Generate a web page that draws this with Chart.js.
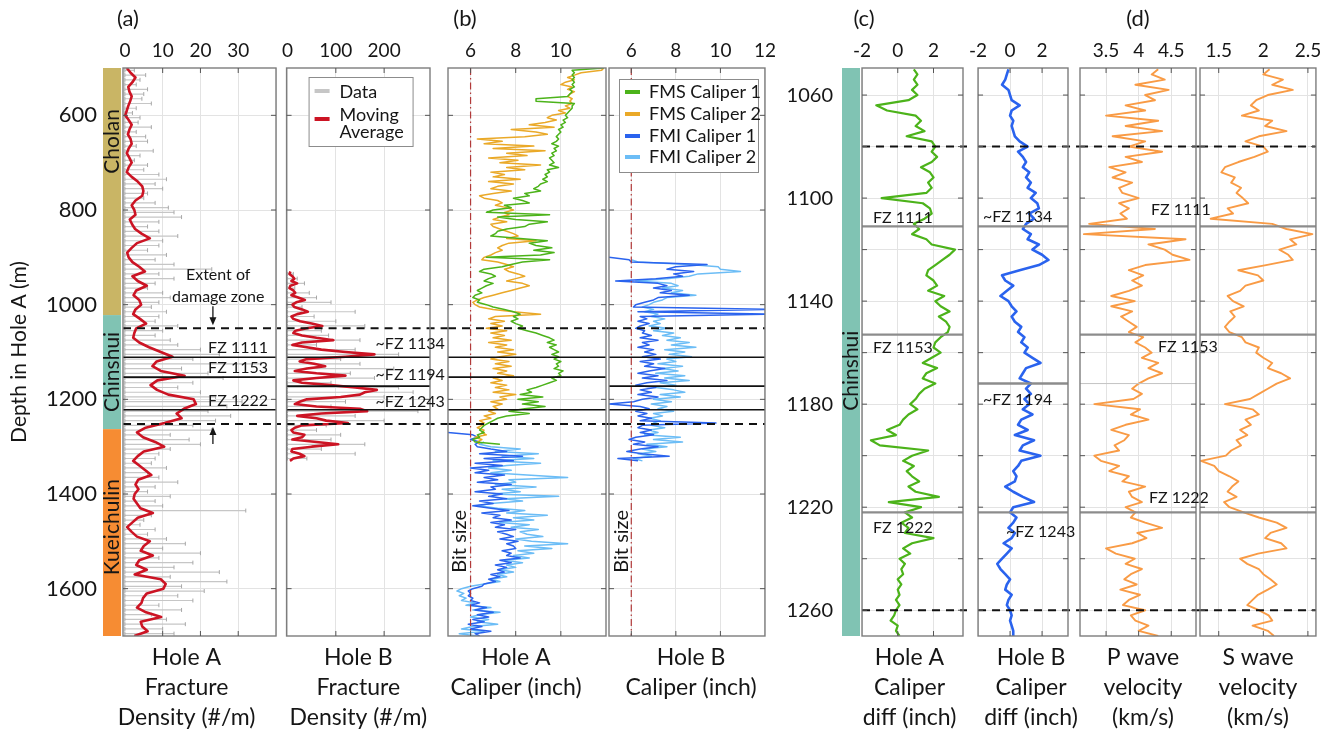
<!DOCTYPE html>
<html>
<head>
<meta charset="utf-8">
<title>Fracture density, caliper and velocity logs</title>
<script src="https://cdn.jsdelivr.net/npm/chart.js@4.4.1/dist/chart.umd.min.js"></script>
<style>
  html, body { margin: 0; padding: 0; background: #fff; }
  #wrap { position: relative; width: 1332px; height: 733px; overflow: hidden; }
  #wrap canvas { position: absolute; top: 0; }
</style>
</head>
<body>
<div id="wrap"></div>
<script>
// ---------- depth axes (m, Hole A depth) ----------
const depthRangeAB = [500, 1700];
const depthRangeCD = [1049.5, 1270];
const depthTicksAB = [600, 800, 1000, 1200, 1400, 1600];
const depthTicksCD = [1060, 1080, 1100, 1120, 1140, 1160, 1180, 1200, 1220, 1240, 1260];
const depthLabelsCD = [1060, 1100, 1140, 1180, 1220, 1260];

// ---------- value axes ----------
const ticksDensA = [0, 10, 20, 30, 40];
const ticksDensB = [0, 100, 200];
const ticksCalA = [6, 8, 10];
const ticksCalB = [6, 8, 10, 12];
const ticksDiff = [-2, 0, 2];
const ticksVp = [3.5, 4, 4.5];
const ticksVs = [1.5, 2, 2.5];

// ---------- formations ----------
const formations = ['Cholan', 'Chinshui', 'Kueichulin'];
const formationTop = [500, 1022, 1263];
const formationBase = [1022, 1263, 1700];
const formationColors = ['#c9b565', '#80c3b3', '#f68c33'];

// ---------- fault zones and damage zone ----------
const fzHoleA = [1111, 1153, 1222];
const fzHoleB = [1111, 1172, 1222];
const fzNamesA = ['FZ 1111', 'FZ 1153', 'FZ 1222'];
const fzNamesB = ['~FZ 1134', '~FZ 1194', '~FZ 1243'];
const damageZoneAB = [1050, 1252];
const damageZoneCD = [1080, 1260];
const bitSize = 6;

// ---------- fracture density, Hole A ----------
// moving average, 500-1700 m every 10 m
const densMaA = [
  0.5, 1.5, 2.8, 2.0, 0.9, 1.2, 1.8, 1.4, 0.9, 0.5,
  0.1, 1.0, 1.8, 1.2, 0.8, 1.5, 1.8, 1.0, 0.5, 1.2,
  1.8, 1.0, 0.5, 1.8, 3.4, 4.6, 4.9, 4.6, 2.8, 1.8,
  2.5, 2.8, 1.3, 1.9, 2.7, 4.4, 6.6, 3.2, 1.8, 0.6,
  1.0, 2.0, 3.8, 5.3, 2.0, 3.4, 5.8, 3.0, 2.3, 3.8,
  4.3, 2.8, 2.2, 4.0, 5.6, 3.0, 2.5, 2.2, 3.8, 6.4,
  9.5, 12.6, 8.4, 7.3, 9.5, 15.8, 8.6, 6.8, 8.5, 11.5,
  18.2, 18.8, 15.6, 13.7, 15.0, 10.5, 5.5, 3.2, 4.8, 8.0,
  10.4, 5.0, 3.4, 2.2, 3.8, 5.4, 7.0, 3.5, 2.8, 3.6,
  2.6, 2.3, 3.2, 4.1, 7.4, 3.4, 2.0, 0.6, 1.8, 3.2,
  6.6, 5.0, 4.2, 7.4, 3.8, 3.0, 5.8, 2.6, 9.5, 10.8,
  10.2, 5.8, 4.8, 4.4, 3.2, 5.6, 9.6, 4.2, 4.6, 6.0,
  2.5
];
// interval counts, 505-1695 m every 10 m
const densDataA = [
  2.5, 5.5, 4, 3, 6, 5, 4.5, 7, 3, 2,
  4, 3.5, 7, 3, 5.5, 6, 3, 7.5, 4, 2.5,
  6, 5, 9, 11, 8, 10, 6, 5, 8, 11.5,
  13, 15, 9, 6, 9, 14, 10, 9, 6, 11,
  8, 13, 23, 9, 13, 8, 6, 10, 12, 9,
  7, 11, 9, 8, 14, 10, 8, 12, 14, 20,
  25, 18, 36, 15, 22, 26, 18, 14, 20, 24,
  31, 27, 22, 28, 24, 18, 23, 12, 17, 20,
  12, 9, 8, 7, 11, 6, 9, 14, 8, 6,
  12, 8, 10, 32, 7, 5, 4, 8, 6, 11,
  16, 10, 20, 9, 18, 13, 25, 12, 27, 15,
  21, 14, 18, 9, 15, 7, 11, 16, 10, 13
];

// ---------- fracture density, Hole B ----------
// moving average, 930-1330 m every 5 m
const densMaB = [
  6, 4, 10, 14, 8, 20, 6, 4, 12, 16,
  8, 22, 36, 18, 10, 14, 30, 42, 20, 8,
  12, 26, 50, 72, 40, 16, 12, 30, 60, 95,
  30, 10, 40, 70, 120, 180, 120, 40, 25, 55,
  78, 40, 15, 60, 120, 60, 12, 30, 90, 140,
  185, 160, 150, 110, 40, 25, 15, 60, 150, 165,
  70, 20, 60, 80, 125, 30, 15, 8, 12, 35,
  30, 10, 60, 105, 50, 10, 8, 25, 35, 12,
  5
];
// interval counts, 935-1325 m every 10 m
const densDataB = [
  12, 20, 35, 15, 45, 60, 90, 30, 140, 55,
  100, 160, 70, 85, 150, 60, 140, 230, 110, 150,
  220, 130, 180, 90, 230, 260, 200, 120, 90, 270,
  140, 200, 80, 60, 110, 90, 160, 70, 140, 40
];

// ---------- calipers, Hole A (inch) ----------
// FMS, 500-1295 m every 5 m
const fms1A = [
  11.9, 10.5, 10.6, 10.5, 10.6, 10.5, 10.6, 10.5, 10.6, 10.4,
  10.5, 10.4, 10.3, 8.9, 8.9, 10.6, 10.5, 10.5, 10.4, 10.3,
  10.2, 10.3, 10.1, 10.2, 10.0, 10.1, 9.9, 10.0, 9.9, 9.8,
  9.9, 9.8, 9.6, 9.9, 9.7, 9.8, 9.6, 9.7, 9.5, 9.6,
  9.7, 9.5, 9.9, 9.4, 9.5, 9.3, 9.4, 9.2, 9.4, 9.1,
  9.0, 8.8, 9.1, 8.4, 8.6, 7.9, 8.3, 8.6, 7.5, 7.8,
  7.0, 6.7, 9.5, 7.2, 8.0, 9.4, 8.6, 8.4, 7.6, 7.2,
  7.1, 6.9, 8.2, 9.4, 8.6, 8.9, 9.6, 8.8, 9.7, 9.1,
  6.7, 9.5, 8.3, 7.8, 7.4, 6.6, 6.4, 6.9, 7.1, 6.8,
  6.6, 7.0, 6.7, 6.5, 6.3, 6.5, 6.2, 6.1, 6.4, 6.3,
  6.7, 7.0, 7.5, 7.9, 8.2, 7.9, 8.1, 7.8, 8.0, 8.3,
  8.1, 8.5, 8.9, 9.2, 9.5, 9.7, 9.4, 9.8, 9.5, 9.7,
  9.9, 9.6, 9.9, 9.7, 10.0, 9.8, 9.9, 9.7, 10.1, 9.9,
  10.0, 9.6, 9.8, 9.5, 9.2, 8.9, 8.5, 8.7, 8.2, 9.2,
  8.1, 9.0, 8.3, 9.3, 8.4, 7.7, 8.6, 7.6, 7.2, 7.0,
  6.8, 6.6, 6.5, 6.4, 6.6, 6.3, 6.4, 6.1, 6.2, 7.3
];
const fms2A = [
  11.9, 11.8, 10.9, 10.6, 10.3, 10.6, 10.2, 10.0, 10.5, 10.3,
  10.6, 10.4, 10.3, 10.5, 10.4, 10.5, 10.2, 10.4, 9.9, 10.2,
  9.6, 9.4, 9.8, 9.3, 8.6, 9.7, 7.8, 8.9, 9.4, 8.4,
  6.3, 7.4, 6.6, 8.8, 7.0, 9.3, 7.6, 8.5, 6.8, 8.1,
  7.3, 9.1, 7.6, 8.4, 6.9, 7.5, 7.0, 8.2, 6.8, 7.9,
  7.2, 6.9, 7.8, 7.0, 6.4, 6.6, 7.2, 7.4, 7.1, 7.6,
  7.9, 7.5, 7.7, 7.3, 7.0, 7.6, 6.9, 7.0, 7.3, 7.6,
  7.9, 8.1, 7.6, 8.9, 7.7, 7.4, 7.2, 7.4, 7.1, 6.9,
  6.6, 6.5, 7.2, 7.6, 7.9, 7.5, 7.7, 8.1, 8.4, 8.0,
  7.6, 8.3, 8.6, 8.2, 7.8, 7.4, 7.0, 6.6, 6.3, 6.1,
  6.2, 6.4, 7.0, 7.9, 9.1, 7.1, 6.8, 7.5, 6.9, 7.4,
  6.7, 7.6, 6.9, 7.5, 7.0, 7.8, 6.8, 7.6, 7.1, 7.9,
  7.2, 8.0, 7.3, 6.9, 7.7, 7.1, 7.8, 7.0, 7.6, 7.2,
  7.9, 7.0, 7.4, 6.9, 7.6, 7.1, 7.7, 7.0, 8.0, 7.3,
  7.6, 6.9, 7.4, 7.0, 7.2, 6.8, 7.1, 6.6, 6.9, 6.4,
  6.6, 6.5, 6.3, 6.6, 6.5, 6.7, 6.2, 6.5, 6.3, 6.4
];
// FMI caliper 1, 1270-1700 m every 5 m
const fmi1A = [
  5.0, 6.1, 6.3, 6.0, 6.4, 6.2, 6.3, 6.9, 7.6, 6.4,
  8.3, 6.6, 7.9, 6.2, 7.4, 6.0, 6.8, 6.2, 7.5, 6.6,
  7.2, 6.3, 7.8, 6.9, 7.1, 6.2, 7.4, 6.8, 7.6, 6.4,
  7.0, 6.1, 6.9, 7.7, 6.5, 7.3, 7.0, 7.8, 6.9, 7.5,
  7.1, 8.0, 7.2, 7.6, 7.9, 7.3, 8.1, 7.6, 7.9, 8.0,
  7.4, 7.8, 7.6, 8.2, 7.3, 7.8, 7.1, 7.6, 7.2, 7.5,
  6.9, 7.3, 6.8, 7.1, 6.6, 6.5, 6.1, 5.9, 6.0, 5.9,
  6.1, 6.0, 6.4, 6.0, 6.7, 6.2, 7.0, 6.3, 6.8, 6.1,
  6.6, 5.9, 6.5, 6.0, 6.9, 6.2, 6.4
];
// FMI caliper 2, 1290-1700 m every 5 m
const fmi2A = [
  6.6, 6.4, 6.9, 8.2, 7.1, 9.0, 7.4, 8.8, 7.0, 9.1,
  7.6, 6.8, 7.8, 6.9, 8.5, 10.3, 7.7, 8.0, 7.1, 8.9,
  7.4, 8.2, 7.0, 9.9, 7.5, 8.3, 6.9, 6.3, 7.2, 8.4,
  7.6, 9.4, 7.9, 8.8, 7.3, 8.6, 7.8, 9.0, 8.2, 8.5,
  9.2, 8.0, 8.7, 10.3, 8.4, 9.6, 8.1, 8.8, 7.9, 8.6,
  7.5, 8.3, 7.6, 8.0, 7.3, 7.9, 7.2, 7.6, 6.9, 7.3,
  6.6, 6.0, 5.6, 5.4, 5.7, 5.5, 5.8, 5.6, 6.2, 5.8,
  6.9, 6.1, 7.3, 6.4, 6.0, 6.8, 6.3, 7.2, 6.1, 5.6,
  6.6, 5.5, 6.3
];

// ---------- calipers, Hole B (inch) ----------
// FMI caliper 1, 900-1330 m every 5 m
const fmi1B = [
  5.0, 5.9, 6.0, 9.4, 8.0, 7.6, 8.8, 7.9, 8.3, 7.1,
  5.3, 7.2, 7.6, 7.0, 7.8, 7.3, 8.6, 7.2, 7.0, 6.6,
  6.2, 6.1, 12.5, 6.3, 12.5, 6.4, 6.7, 6.3, 6.8, 6.4,
  6.2, 6.6, 6.5, 6.9, 6.4, 7.2, 6.5, 6.8, 6.3, 7.0,
  6.6, 7.1, 6.5, 7.3, 6.4, 7.0, 6.6, 7.5, 6.8, 6.3,
  7.2, 6.5, 7.6, 6.7, 6.2, 7.1, 6.4, 6.9, 6.3, 7.2,
  6.5, 6.1, 5.0, 6.4, 6.8, 6.2, 6.7, 6.3, 6.9, 6.4,
  9.8, 6.5, 6.3, 6.9, 6.4, 7.0, 6.2, 5.9, 6.6, 6.1,
  7.2, 6.4, 5.8, 6.5, 7.7, 5.4, 6.3
];
// FMI caliper 2, 905-1330 m every 5 m
const fmi2B = [
  6.0, 6.3, 8.6, 9.9, 10.0, 10.9, 9.0, 8.6, 7.6, 6.2,
  7.8, 8.1, 7.4, 8.3, 7.8, 8.9, 7.6, 7.4, 7.0, 6.8,
  6.5, 7.0, 6.6, 7.2, 6.9, 7.5, 7.0, 7.3, 6.8, 7.6,
  7.0, 7.9, 7.4, 8.2, 7.6, 8.6, 7.8, 8.9, 7.5, 8.4,
  7.7, 8.7, 7.6, 8.0, 7.2, 8.3, 7.4, 8.1, 7.1, 8.4,
  7.5, 8.6, 7.3, 8.0, 7.1, 7.9, 8.4, 7.3, 8.2, 7.0,
  7.8, 6.9, 7.6, 7.2, 7.9, 7.0, 7.4, 6.8, 7.3, 7.0,
  6.9, 7.5, 6.8, 7.2, 6.6, 8.2, 7.0, 8.3, 6.7, 7.6,
  6.5, 7.1, 6.3, 6.9, 6.1, 6.5
];

// ---------- fault-zone section, 1050-1270 m every 2 m ----------
const caliperDiffA = [
  0.9, 1.1, 0.9, 1.1, 0.8, 1.1, 0.6, -1.2, -0.6, 1.0,
  1.3, 1.0, 1.5, 0.5, 1.9, 2.1, 1.9, 2.2, 1.9, 1.3,
  1.8, 2.0, 1.7, 1.9, 1.6, -0.9, 1.4, 1.8, 1.9, 1.5,
  0.9, 1.2, 0.8, 1.6, 1.9, 3.2, 2.9, 2.5, 2.1, 1.7,
  1.6, 2.0, 2.2, 1.7, 2.6, 2.1, 2.4, 2.9, 2.3, 2.7,
  2.9, 2.8, 2.4, 2.1, 2.0, 2.4, 1.9, 1.4, 2.2, 1.6,
  1.4, 2.1, 1.5, 1.2, 1.0, 0.7, 1.1, 0.6, 0.3, 0.1,
  -0.6, -0.1, -1.5, -1.0, 1.7, 0.8, 0.3, 0.9, 0.5, 0.8,
  1.2, 0.6, 1.0, 2.3, -0.5, 1.3, 0.4, 0.8, 0.2, 0.6,
  0.4, 2.0, 0.8, 0.3, 0.7, 0.1, 0.4, 0.2, 0.3, 0.0,
  0.2, 0.0, 0.1, -0.1, 0.1, -0.1, -0.2, -0.4, 0.0, -0.1,
  0.1
];
const caliperDiffB = [
  -0.1, -0.2, -0.3, -0.5, -0.1, 0.0, 0.1, 0.6, 0.1, 0.0,
  0.2, 0.1, 0.2, 0.3, 0.6, 1.1, 0.5, 0.8, 1.0, 0.8,
  1.2, 1.0, 1.3, 1.1, 1.6, 1.3, 1.7, 1.8, 1.2, 1.5,
  1.0, 0.8, 1.3, 1.1, 1.8, 1.4, 2.0, 2.4, 1.8, 0.6,
  -0.5, -0.3, 0.2, -0.2, -0.6, -0.1, 0.1, 0.4, 0.1, 0.3,
  0.7, 0.5, 0.9, 0.7, 1.1, 0.9, 1.4, 1.9, 1.0, 0.8,
  0.6, 1.3, 1.0, 1.3, 0.9, 1.2, 0.8, 1.4, 0.7, 0.5,
  1.1, 0.3, 1.5, 0.8, 0.6, 1.9, 0.7, 0.5, 0.2, 0.4,
  0.3, -0.3, 0.2, 0.8, 1.5, 0.2, 0.0, 0.4, 0.2, -0.1,
  0.3, 0.1, -0.4, 0.1, -0.2, -0.5, -0.8, -0.6, -0.3, 0.0,
  -0.2, -0.3, 0.1, -0.1, -0.2, 0.0, 0.1, 0.0, 0.1, 0.2,
  0.2
];
const vpWave = [
  4.30, 4.20, 4.40, 3.95, 4.46, 4.10, 4.25, 3.80, 4.10, 3.50,
  4.30, 3.80, 4.36, 3.60, 4.10, 3.85, 4.36, 3.80, 4.05, 3.55,
  3.80, 3.60, 3.90, 3.70, 3.75, 4.00, 3.70, 3.85, 3.72, 3.82,
  3.24, 4.25, 3.16, 4.72, 4.15, 4.40, 4.52, 4.78, 4.10, 3.85,
  4.07, 3.90, 4.05, 3.85, 3.58, 3.94, 3.58, 3.90, 3.73, 3.85,
  3.97, 3.85, 4.07, 3.95, 4.10, 4.20, 4.05, 4.30, 4.15, 4.36,
  4.15, 4.00, 3.90, 4.05, 3.92, 3.32, 4.02, 3.88, 4.15, 3.80,
  3.58, 3.85, 3.78, 3.63, 3.70, 3.32, 3.42, 3.70, 3.55, 3.85,
  3.75, 4.10, 3.85, 3.90, 4.05, 3.80, 3.95, 3.88, 4.10, 4.36,
  3.98, 4.12, 3.90, 3.50, 3.65, 3.94, 3.80, 4.05, 3.88, 3.78,
  3.97, 3.72, 4.02, 3.85, 3.76, 4.10, 3.88, 3.95, 4.15, 4.00,
  4.30
];
const vsWave = [
  2.07, 2.00, 2.22, 2.10, 2.33, 2.05, 1.92, 1.86, 1.95, 1.76,
  2.10, 2.02, 2.26, 1.95, 1.80, 2.00, 2.05, 1.90, 1.72, 1.57,
  1.53, 1.68, 1.64, 1.75, 1.70, 1.77, 1.83, 1.60, 1.66, 1.41,
  2.10, 2.26, 2.55, 2.30, 2.37, 2.18, 2.28, 2.33, 2.03, 1.72,
  1.94, 2.00, 1.80, 1.74, 1.60, 1.66, 1.78, 1.63, 1.68, 1.62,
  1.57, 1.62, 1.76, 1.80, 1.95, 1.92, 2.00, 2.10, 2.05, 2.20,
  2.30, 2.15, 2.05, 1.95, 1.85, 1.57, 1.88, 1.95, 1.80, 1.86,
  1.74, 1.82, 1.70, 1.75, 1.64, 1.58, 1.30, 1.45, 1.50, 1.62,
  1.72, 1.65, 1.60, 1.70, 1.56, 1.62, 1.78, 1.95, 2.15, 2.26,
  2.08, 2.02, 2.20, 2.26, 1.94, 1.74, 1.82, 1.95, 2.00, 2.08,
  2.15, 2.05, 1.94, 1.88, 1.82, 1.95, 2.06, 2.10, 1.88, 2.05,
  2.12
];

// ---------- styling ----------
Chart.defaults.font.family = 'Lato, "Open Sans", sans-serif';
const INK = '#161616', GRID = '#e3e3e3', FRAME = '#7d7d7d';
const PLOT_TOP = 68, PLOT_BOTTOM = 636, H = 733;
const RED = '#cc1424', GREY = '#c6c6c6', GREEN = '#4cb31a', AMBER = '#eaa928';
const BLUE = '#2a63ee', SKY = '#6cbdf6', ORANGE = '#f99b45', BIT = '#b23a3a';

function track(values, start, step) {
  return values.map((v, i) => ({ x: v, y: start + i * step }));
}
// each count drawn as a segment from zero, with a gap between intervals
function intervals(values, start, step) {
  const pts = [];
  values.forEach((v, i) => {
    const d = start + i * step;
    pts.push({ x: 0, y: d }, { x: v, y: d }, { x: null, y: null });
  });
  return pts;
}
function log(label, data, color, width) {
  return { label, data, showLine: true, borderColor: color, borderWidth: width,
           pointRadius: 0, borderJoinStyle: 'round' };
}
function countSet(data) {
  return { label: 'Data', data, showLine: true, borderColor: GREY, borderWidth: 1.2,
           pointRadius: 2, pointStyle: 'line', rotation: 90,
           pointBorderColor: '#a8a8a8', pointBorderWidth: 1 };
}
function bitSet(range) {
  return { label: 'Bit size', data: [{ x: bitSize, y: range[0] }, { x: bitSize, y: range[1] }],
           showLine: true, borderColor: BIT, borderWidth: 1.2, borderDash: [7, 3, 1.5, 3], pointRadius: 0 };
}

function seg(ctx, x0, y0, x1, y1) {
  ctx.beginPath(); ctx.moveTo(x0, y0); ctx.lineTo(x1, y1); ctx.stroke();
}
function arrow(ctx, x, yTail, yTip) {
  const dir = Math.sign(yTip - yTail);
  ctx.strokeStyle = INK; ctx.fillStyle = INK; ctx.lineWidth = 1.3;
  seg(ctx, x, yTail, x, yTip - dir * 6);
  ctx.beginPath();
  ctx.moveTo(x, yTip); ctx.lineTo(x - 3.5, yTip - dir * 8); ctx.lineTo(x + 3.5, yTip - dir * 8);
  ctx.closePath(); ctx.fill();
}
function vtext(ctx, text, x, y, size) {
  ctx.save();
  ctx.translate(x, y); ctx.rotate(-Math.PI / 2);
  ctx.font = size + 'px Lato'; ctx.fillStyle = INK;
  ctx.textAlign = 'center'; ctx.textBaseline = 'middle';
  ctx.fillText(text, 0, 0);
  ctx.restore();
}

// frame, fault lines, labels and the other annotations of one panel
function decorate(p) {
  return {
    id: 'deco',
    afterDatasetsDraw(chart) {
      const { ctx, chartArea: a, scales: { x, y } } = chart;
      ctx.save();
      (p.faint || []).forEach(d => {
        ctx.strokeStyle = '#c4c4c4'; ctx.lineWidth = 1;
        const py = y.getPixelForValue(d); seg(ctx, a.left, py, a.right, py);
      });
      (p.faults || []).forEach(d => {
        ctx.strokeStyle = p.faultColor; ctx.lineWidth = p.faultWidth;
        const py = y.getPixelForValue(d); seg(ctx, a.left, py, a.right, py);
      });
      ctx.setLineDash([8, 6]);
      ctx.strokeStyle = '#111'; ctx.lineWidth = 2;
      (p.damage || []).forEach(d => {
        const py = y.getPixelForValue(d); seg(ctx, a.left, py, a.right + p.gapRight, py);
      });
      ctx.setLineDash([]);
      ctx.strokeStyle = FRAME; ctx.lineWidth = 1.4;
      ctx.strokeRect(a.left, a.top, a.right - a.left, a.bottom - a.top);
      ctx.strokeStyle = '#555'; ctx.lineWidth = 1;
      x.ticks.forEach(t => {
        const px = x.getPixelForValue(t.value);
        if (px < a.left + 2 || px > a.right - 2) return;
        seg(ctx, px, a.top, px, a.top + 5); seg(ctx, px, a.bottom, px, a.bottom - 5);
      });
      y.ticks.forEach(t => {
        const py = y.getPixelForValue(t.value);
        if (py < a.top + 2 || py > a.bottom - 2) return;
        seg(ctx, a.left, py, a.left + 5, py); seg(ctx, a.right, py, a.right - 5, py);
      });
      ctx.restore();
    },
    afterDraw(chart) {
      const { ctx, chartArea: a, scales: { x, y } } = chart;
      ctx.save();
      ctx.fillStyle = INK; ctx.textBaseline = 'middle';

      if (p.formations) {
        const f = p.formations;
        f.names.forEach((name, i) => {
          const t = Math.max(a.top, y.getPixelForValue(f.top[i]));
          const b = Math.min(a.bottom, y.getPixelForValue(f.base[i]));
          ctx.fillStyle = f.colors[i];
          ctx.fillRect(a.left - 20, t, 18, b - t);
          vtext(ctx, name, a.left - 11, y.getPixelForValue(f.labelDepth[i]), 21);
        });
        ctx.fillStyle = INK;
      }

      if (p.labels) {
        ctx.font = '16px Lato';
        p.labels.forEach((txt, i) => {
          const at = p.labelAt[i];
          ctx.textAlign = at.align || 'left';
          const px = (at.align === 'right' ? a.right : a.left) + at.dx;
          ctx.fillText(txt, px, y.getPixelForValue(p.faults[i]) + at.dy);
        });
      }

      if (p.bitLabel) {
        vtext(ctx, 'Bit size', x.getPixelForValue(p.bitLabel[0]), y.getPixelForValue(p.bitLabel[1]), 20);
      }

      if (p.note) {
        const top = y.getPixelForValue(p.damage[0]), bot = y.getPixelForValue(p.damage[1]);
        const ax = x.getPixelForValue(p.note.arrowX), tx = x.getPixelForValue(p.note.textX);
        arrow(ctx, ax, top - 22, top - 3);
        arrow(ctx, ax, bot + 20, bot + 3);
        ctx.font = '16px Lato'; ctx.textAlign = 'center'; ctx.fillStyle = INK;
        ctx.fillText('Extent of', tx, top - 53);
        ctx.fillText('damage zone', tx, top - 31);
      }

      if (p.legend) {
        const L = p.legend, bx = a.left + L.dx, by = a.top + L.dy;
        ctx.fillStyle = '#fff'; ctx.fillRect(bx, by, L.w, L.h);
        ctx.strokeStyle = '#8c8c8c'; ctx.lineWidth = 1;
        ctx.strokeRect(bx + 0.5, by + 0.5, L.w, L.h);
        ctx.font = '18px Lato'; ctx.textAlign = 'left';
        L.items.forEach(it => {
          ctx.strokeStyle = it.color; ctx.lineWidth = 4;
          seg(ctx, bx + 6, by + it.sy, bx + 21, by + it.sy);
          ctx.fillStyle = INK;
          it.text.forEach((t, k) => ctx.fillText(t, bx + L.tx, by + it.ty + k * 17));
        });
      }

      ctx.font = '23px Lato'; ctx.textAlign = 'center'; ctx.fillStyle = INK;
      const cx = (a.left + a.right) / 2 + p.titleDx;
      p.title.forEach((t, i) => ctx.fillText(t, cx, a.bottom + 22 + i * 30));

      if (p.letter) {
        ctx.font = '22px Lato';
        ctx.fillText(p.letter, a.left + p.letterDx, 19);
      }
      ctx.restore();
    }
  };
}

const wrap = document.getElementById('wrap');
function makePanel(p) {
  const canvas = document.createElement('canvas');
  canvas.width = p.padLeft + p.width + p.padRight;
  canvas.height = H;
  canvas.style.left = (p.left - p.padLeft) + 'px';
  wrap.appendChild(canvas);
  const yLabels = p.depthLabels;
  return new Chart(canvas, {
    type: 'scatter',
    data: { datasets: p.datasets },
    options: {
      responsive: false, animation: false, events: [],
      layout: { autoPadding: false, padding: { top: 0, left: 0, right: p.padRight, bottom: H - PLOT_BOTTOM } },
      plugins: { legend: { display: false }, tooltip: { enabled: false } },
      scales: {
        x: {
          type: 'linear', position: 'top', min: p.xRange[0], max: p.xRange[1],
          afterFit: s => { s.height = PLOT_TOP; },
          afterBuildTicks: s => { s.ticks = p.xTicks.map(v => ({ value: v })); },
          grid: { color: GRID, drawTicks: false },
          border: { display: false },
          ticks: { padding: 6, font: { size: 19 }, color: INK, autoSkip: false, maxRotation: 0,
                   callback: v => (p.xHide && p.xHide.includes(v)) ? '' : String(v) }
        },
        y: {
          type: 'linear', position: 'left', reverse: true, min: p.yRange[0], max: p.yRange[1],
          afterFit: s => { s.width = p.padLeft; },
          afterBuildTicks: s => { s.ticks = p.depthTicks.map(v => ({ value: v })); },
          grid: { color: GRID, drawTicks: false },
          border: { display: false },
          ticks: { display: !!yLabels, padding: p.yPad || 0, font: { size: p.yFont || 20 }, color: INK,
                   autoSkip: false, callback: v => (yLabels && yLabels.includes(v)) ? String(v) : '' },
          title: p.yTitle
            ? { display: true, text: p.yTitle, font: { size: 21 }, color: INK, padding: { top: 7, bottom: 0 } }
            : { display: false }
        }
      }
    },
    plugins: [decorate(p)]
  });
}

const AB = depthRangeAB, CD = depthRangeCD;
const faultsAB = { faultColor: '#111', faultWidth: 1.6 };
const faultsCD = { faultColor: '#8c8c8c', faultWidth: 2.4 };

const panels = [
  Object.assign({
    left: 123, width: 153, padLeft: 123, padRight: 12,
    xRange: [-0.5, 40], xTicks: ticksDensA, xHide: [40],
    yRange: AB, depthTicks: depthTicksAB, depthLabels: depthTicksAB, yFont: 22, yPad: 26,
    yTitle: 'Depth in Hole A (m)',
    datasets: [log('Moving Average', track(densMaA, 500, 10), RED, 2.6), countSet(intervals(densDataA, 505, 10))],
    faults: fzHoleA, damage: damageZoneAB, gapRight: 5,
    labels: fzNamesA,
    labelAt: [{ dx: -8, dy: -9, align: 'right' }, { dx: -8, dy: -9, align: 'right' }, { dx: -8, dy: -9, align: 'right' }],
    note: { arrowX: 23.3, textX: 24.7 },
    formations: { names: formations, top: formationTop, base: formationBase, colors: formationColors,
                  labelDepth: [655, 1142, 1470] },
    title: ['Hole A', 'Fracture', 'Density (#/m)'], titleDx: -13,
    letter: '(a)', letterDx: 5
  }, faultsAB),
  Object.assign({
    left: 281, width: 149, padLeft: 5, padRight: 20,
    xRange: [-2, 295], xTicks: ticksDensB,
    yRange: AB, depthTicks: depthTicksAB,
    datasets: [log('Moving Average', track(densMaB, 930, 5), RED, 2.6), countSet(intervals(densDataB, 935, 10))],
    faults: fzHoleB, damage: damageZoneAB, gapRight: 18,
    labels: fzNamesB,
    labelAt: [{ dx: 89, dy: -13 }, { dx: 89, dy: -11 }, { dx: 89, dy: -8 }],
    legend: { dx: 22, dy: 9, w: 104, h: 69, tx: 31,
              items: [{ color: GREY, sy: 14, ty: 15, text: ['Data'] },
                      { color: RED, sy: 42, ty: 38, text: ['Moving', 'Average'] }] },
    title: ['Hole B', 'Fracture', 'Density (#/m)'], titleDx: 0
  }, faultsAB),
  Object.assign({
    left: 448, width: 158, padLeft: 5, padRight: 3,
    xRange: [5, 12], xTicks: ticksCalA,
    yRange: AB, depthTicks: depthTicksAB,
    datasets: [bitSet(AB), log('FMS Caliper 1', track(fms1A, 500, 5), GREEN, 1.5),
               log('FMS Caliper 2', track(fms2A, 500, 5), AMBER, 1.5),
               log('FMI Caliper 1', track(fmi1A, 1270, 5), BLUE, 1.5),
               log('FMI Caliper 2', track(fmi2A, 1290, 5), SKY, 1.5)],
    faults: fzHoleA, damage: damageZoneAB, gapRight: 3,
    bitLabel: [5.53, 1500],
    title: ['Hole A', 'Caliper (inch)'], titleDx: -11,
    letter: '(b)', letterDx: 17
  }, faultsAB),
  Object.assign({
    left: 609, width: 159, padLeft: 3, padRight: 14,
    xRange: [5, 12], xTicks: ticksCalB,
    yRange: AB, depthTicks: depthTicksAB,
    datasets: [bitSet(AB), log('FMI Caliper 1', track(fmi1B, 900, 5), BLUE, 1.5),
               log('FMI Caliper 2', track(fmi2B, 905, 5), SKY, 1.5)],
    faults: fzHoleB, damage: damageZoneAB, gapRight: 0,
    bitLabel: [5.57, 1500],
    legend: { dx: 10, dy: 11, w: 139, h: 93, tx: 30,
              items: [{ color: GREEN, sy: 13, ty: 13, text: ['FMS Caliper 1'] },
                      { color: AMBER, sy: 35, ty: 35, text: ['FMS Caliper 2'] },
                      { color: BLUE, sy: 57, ty: 57, text: ['FMI Caliper 1'] },
                      { color: SKY, sy: 78, ty: 78, text: ['FMI Caliper 2'] }] },
    title: ['Hole B', 'Caliper (inch)'], titleDx: 4
  }, faultsAB),
  Object.assign({
    left: 862, width: 101, padLeft: 80, padRight: 6,
    xRange: [-2, 3.65], xTicks: ticksDiff,
    yRange: CD, depthTicks: depthTicksCD, depthLabels: depthLabelsCD, yFont: 20, yPad: 29,
    datasets: [log('Hole A caliper diff', track(caliperDiffA, 1050, 2), GREEN, 2.2)],
    faults: fzHoleA, damage: damageZoneCD, gapRight: 4,
    labels: fzNamesA,
    labelAt: [{ dx: 11, dy: -9 }, { dx: 11, dy: 13 }, { dx: 11, dy: 15 }],
    formations: { names: ['Chinshui'], top: [CD[0]], base: [CD[1]], colors: [formationColors[1]], labelDepth: [1167] },
    title: ['Hole A', 'Caliper', 'diff (inch)'], titleDx: -3,
    letter: '(c)', letterDx: 2
  }, faultsCD),
  Object.assign({
    left: 967, width: 101, padLeft: 4, padRight: 12,
    xRange: [-2, 3.62], xTicks: ticksDiff,
    yRange: CD, depthTicks: depthTicksCD,
    datasets: [log('Hole B caliper diff', track(caliperDiffB, 1050, 2), BLUE, 2.6)],
    faults: fzHoleB, damage: damageZoneCD, gapRight: 12,
    labels: fzNamesB,
    labelAt: [{ dx: 5, dy: -10 }, { dx: 5, dy: 16 }, { dx: 28, dy: 19 }],
    title: ['Hole B', 'Caliper', 'diff (inch)'], titleDx: 8
  }, faultsCD),
  Object.assign({
    left: 1080, width: 116, padLeft: 4, padRight: 26,
    xRange: [3.1, 4.88], xTicks: ticksVp,
    yRange: CD, depthTicks: depthTicksCD,
    datasets: [log('P wave velocity', track(vpWave, 1050, 2), ORANGE, 1.9)],
    faults: fzHoleA, faint: [fzHoleB[1]], damage: damageZoneCD, gapRight: 4,
    labels: fzNamesA,
    labelAt: [{ dx: 71, dy: -17 }, { dx: 78, dy: 12 }, { dx: 69, dy: -15 }],
    title: ['P wave', 'velocity', '(km/s)'], titleDx: 5,
    letter: '(d)', letterDx: 58
  }, faultsCD),
  Object.assign({
    left: 1200, width: 116, padLeft: 4, padRight: 12,
    xRange: [1.29, 2.59], xTicks: ticksVs,
    yRange: CD, depthTicks: depthTicksCD,
    datasets: [log('S wave velocity', track(vsWave, 1050, 2), ORANGE, 1.9)],
    faults: fzHoleA, damage: damageZoneCD, gapRight: 0,
    title: ['S wave', 'velocity', '(km/s)'], titleDx: 0
  }, faultsCD)
];

panels.forEach(makePanel);
</script>
</body>
</html>
